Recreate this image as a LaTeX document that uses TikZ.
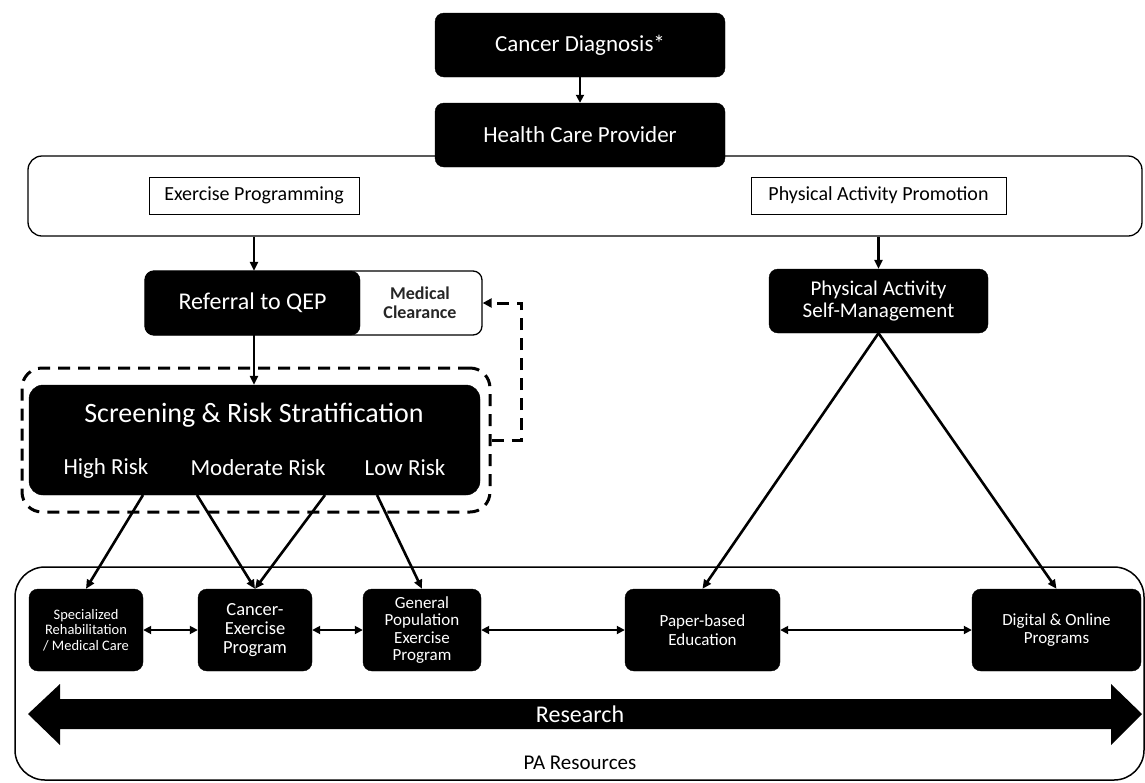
\documentclass[tikz,border=0pt]{standalone}
\usepackage{fontspec}
\setmainfont{Carlito}
\usetikzlibrary{arrows.meta}
\newlength\fsb
\newcommand{\fs}[1]{\setlength\fsb{#1pt}\fontsize{#1}{1.2\fsb}\selectfont}
\tikzset{
  blk/.style={draw=black,fill=black,text=white,rounded corners=9pt,inner sep=0pt,align=center},
  wbox/.style={draw=black,line width=1pt,fill=white,inner sep=0pt},
  arr/.style={line width=2.6pt,-{Triangle[length=9pt,width=8pt]}},
  thinarr/.style={line width=1.8pt,-{Triangle[length=8pt,width=8pt]}},
  darr/.style={line width=1.8pt,{Triangle[length=8pt,width=8pt]}-{Triangle[length=8pt,width=8pt]}},
  dasharr/.style={line width=3pt,dash pattern=on 12pt off 8pt,-{Triangle[length=9pt,width=9pt]}},
}
\begin{document}
\begin{tikzpicture}[x=1pt,y=-1pt]
\useasboundingbox (0,0) rectangle (1145,782);
% pathways container
\node[wbox,line width=1.3pt,rounded corners=14pt,minimum width=1114pt,minimum height=80pt] (pw) at (585,196) {};
\node[wbox,minimum width=210pt,minimum height=37pt,font=\fs{20}] (ep) at (254,195.5) {Exercise Programming};
\node[wbox,minimum width=255pt,minimum height=37pt,font=\fs{20}] (pap) at (878.5,195.5) {Physical Activity Promotion};
% top
\node[blk,minimum width=290pt,minimum height=64pt,font=\fs{23}] (cd) at (580,45) {Cancer Diagnosis*};
\node[blk,minimum width=290pt,minimum height=64pt,font=\fs{23}] (hcp) at (580,135) {Health Care Provider};
\draw[thinarr] (cd) -- (hcp);
% referral
\node[wbox,line width=1.3pt,rounded corners=9pt,minimum width=337pt,minimum height=64pt] (medc) at (313.5,303) {};
\node[blk,minimum width=215pt,minimum height=64pt,font=\fs{24}] (ref) at (252.5,303) {Referral to QEP};
\node[font=\bfseries\fs{18},text=black!85,align=center,inner sep=0pt] (mct) at (420,303) {Medical\\[-3pt]Clearance};
% screening
\node[draw=black,line width=3pt,dash pattern=on 12pt off 8pt,rounded corners=20pt,minimum width=468pt,minimum height=144pt] (dbox) at (256,440) {};
\node[blk,rounded corners=14pt,minimum width=451pt,minimum height=110pt] (scr) at (254.5,440) {};
\node[text=white,font=\fs{28},inner sep=0pt] (scrt) at (254,415) {Screening \& Risk Stratification};
\node[text=white,font=\fs{23},inner sep=0pt] (hr) at (106,468) {High Risk};
\node[text=white,font=\fs{23},inner sep=0pt] (mr) at (258,468) {Moderate Risk};
\node[text=white,font=\fs{23},inner sep=0pt] (lr) at (405,468) {Low Risk};
\coordinate (h1) at (143,495);
\coordinate (m1) at (197,495);
\coordinate (m2) at (325,495);
\coordinate (l1) at (377,495);
% self-management
\node[blk,minimum width=219pt,minimum height=64pt,font=\fs{21}] (pas) at (878.5,301) {Physical Activity\\[-3pt]Self-Management};
% connectors top part
\draw[arr] (pw.south -| ep) -- (ref.north -| ep);
\draw[arr] (pw.south -| pas) -- (pas.north);
\draw[arr] (ref.south -| ep) -- (scr.north -| ep);
\draw[dasharr] (dbox.east) -- ++(30,0) |- (medc.east);
% PA resources
\node[draw=black,line width=1.5pt,rounded corners=30pt,minimum width=1129pt,minimum height=213pt] (par) at (579.5,673.5) {};
\node[blk,minimum width=114pt,minimum height=82pt,font=\fs{14.5}] (spec) at (86,630) {Specialized\\[-2pt]Rehabilitation\\[-2pt]/ Medical Care};
\node[blk,minimum width=114pt,minimum height=82pt,font=\fs{18.5}] (cep) at (255,630) {Cancer-\\[-3pt]Exercise\\[-3pt]Program};
\node[blk,minimum width=118pt,minimum height=82pt,font=\fs{17}] (gp) at (422,630) {General\\[-3pt]Population\\[-3pt]Exercise\\[-3pt]Program};
\node[blk,minimum width=155pt,minimum height=82pt,font=\fs{17}] (pe) at (702.5,630) {Paper-based\\[-2pt]Education};
\node[blk,minimum width=169pt,minimum height=82pt,font=\fs{17}] (dop) at (1056.5,630) {Digital \& Online\\[-2pt]Programs};
\draw[arr] (h1) -- (spec.north);
\draw[arr] (m1) -- (cep.north);
\draw[arr] (m2) -- (cep.north);
\draw[arr] (l1) -- (gp.north);
\draw[arr] (pas.south) -- (pe.north);
\draw[arr] (pas.south) -- (dop.north);
\draw[darr] (spec) -- (cep);
\draw[darr] (cep) -- (gp);
\draw[darr] (gp) -- (pe);
\draw[darr] (pe) -- (dop);
% research arrow
\fill[black] (28,714) -- (60,684) -- (60,699) -- (1111,699) -- (1111,684) -- (1142,714) -- (1111,745) -- (1111,729) -- (60,729) -- (60,745) -- cycle;
\node[text=white,font=\fs{24},inner sep=0pt] (res) at (580,714) {Research};
\node[font=\fs{21},inner sep=0pt] (part) at (580,763) {PA Resources};
\end{tikzpicture}
\end{document}
